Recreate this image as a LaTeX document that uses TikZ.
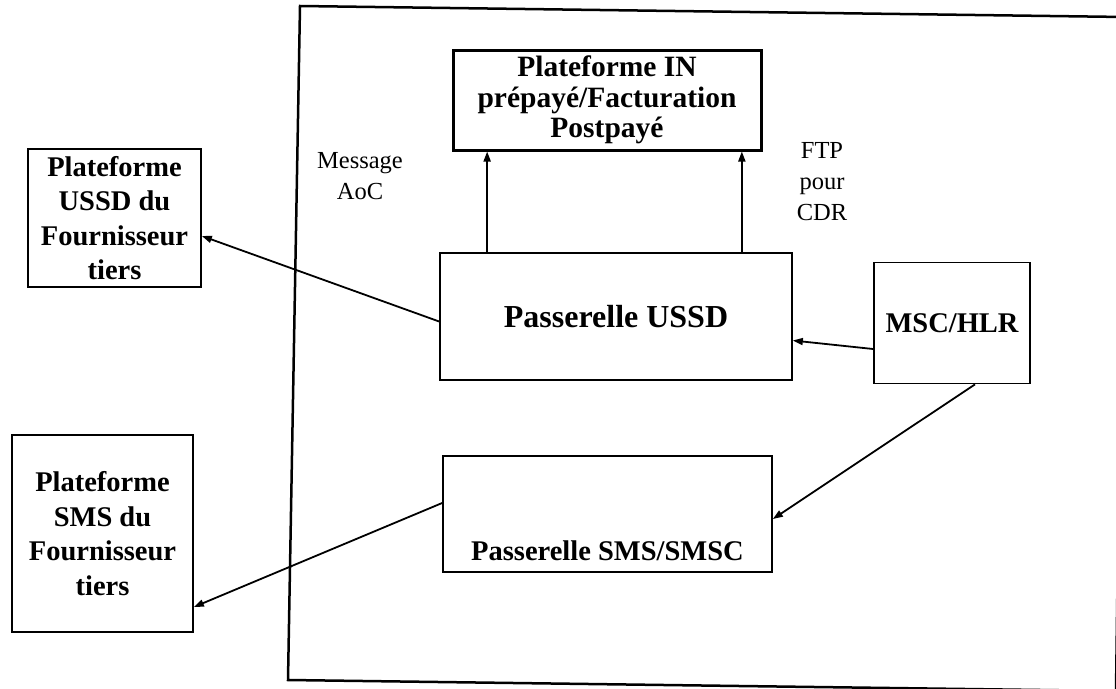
\documentclass[tikz,border=0pt]{standalone}
\usepackage{fontspec}
\setmainfont{Liberation Serif}
\usetikzlibrary{arrows.meta}
\begin{document}
\begin{tikzpicture}[x=1pt,y=-1pt,
  box/.style={draw, line width=1.7pt, rectangle, inner sep=0pt, align=center,
    font=\fontsize{28.5}{34.5}\selectfont\bfseries},
  thickbox/.style={box, line width=3pt, font=\fontsize{29.5}{30.5}\selectfont\bfseries},
  lbl/.style={align=center, font=\fontsize{24.5}{31}\selectfont},
  arr/.style={line width=1.8pt, -{Triangle[length=10pt,width=7pt]}}]
\useasboundingbox (0,0) rectangle (1116,688);
\begin{scope}
\clip (0,0) rectangle (1116,688);
\draw[line width=2.5pt] (300,6) -- (1125,17) -- (1116,691) -- (288,680) -- cycle;
\end{scope}

\node[thickbox, minimum width=308, minimum height=100] (in) at (607,100)
  {Plateforme IN\\prépayé/Facturation\\Postpayé};
\node[box, minimum width=173, minimum height=138] (pu) at (114.5,218)
  {Plateforme\\USSD du\\Fournisseur\\tiers};
\node[box, minimum width=181, minimum height=197] (ps) at (102.5,533.5)
  {Plateforme\\SMS du\\Fournisseur\\tiers};
\node[box, minimum width=352, minimum height=127, font=\fontsize{32}{36}\selectfont\bfseries] (ussd) at (616,316.5)
  {Passerelle USSD};
\node[box, minimum width=156, minimum height=121] (msc) at (952,323)
  {MSC/HLR};
\node[box, minimum width=329, minimum height=116,
  label={[font=\fontsize{28.5}{34}\selectfont\bfseries, anchor=center, yshift=22pt]south:Passerelle SMS/SMSC}]
  (sms) at (607.5,514) {};

\node[lbl] (aoc) at (360,176) {Message\\AoC};
\node[lbl] (ftp) at (822,182) {FTP\\pour\\CDR};

\draw[arr] ([xshift=48pt]ussd.north west) -- ([xshift=48pt]ussd.north west |- in.south);
\draw[arr] ([xshift=-51pt]ussd.north east) -- ([xshift=-51pt]ussd.north east |- in.south);
\draw[arr] ([yshift=-5pt]ussd.west) -- ([yshift=-18pt]pu.east);
\draw[arr] ([yshift=-26pt]msc.west) -- ([yshift=-24pt]ussd.east);
\draw[arr] ([xshift=23pt]msc.south) -- ([yshift=-5pt]sms.east);
\draw[arr] ([yshift=11pt]sms.west) -- ([yshift=-73.5pt]ps.east);
\end{tikzpicture}
\end{document}
